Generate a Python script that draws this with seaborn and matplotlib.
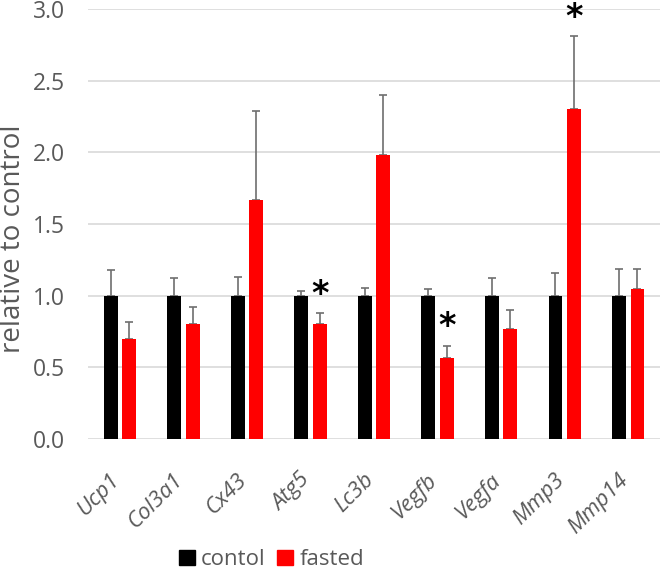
import matplotlib.pyplot as plt
import matplotlib.transforms as mtransforms
import seaborn as sns
import numpy as np
import pandas as pd

genes = ["Ucp1", "Col3a1", "Cx43", "Atg5", "Lc3b", "Vegfb", "Vegfa", "Mmp3", "Mmp14"]
control_mean = [1.0, 1.0, 1.0, 1.0, 1.0, 1.0, 1.0, 1.0, 1.0]
control_err = [0.18, 0.125, 0.13, 0.03, 0.055, 0.05, 0.125, 0.16, 0.19]
fasted_mean = [0.695, 0.80, 1.665, 0.80, 1.98, 0.567, 0.77, 2.30, 1.05]
fasted_err = [0.125, 0.12, 0.625, 0.077, 0.42, 0.083, 0.13, 0.51, 0.14]
signif = [False, False, False, True, False, True, False, True, False]
groups = ["contol", "fasted"]
colors = ["#000000", "#ff0000"]

df = pd.DataFrame({
    "gene": genes * 2,
    "value": control_mean + fasted_mean,
    "group": [groups[0]] * len(genes) + [groups[1]] * len(genes),
})

sns.set_style("white")
plt.rcParams["font.family"] = ["Open Sans", "DejaVu Sans"]
grey = "#595959"

fig = plt.figure(figsize=(6.62, 5.71), dpi=100)
ax = fig.add_axes([0.133, 0.231, 0.864, 0.753])

sns.barplot(data=df, x="gene", y="value", hue="group", palette=colors,
            order=genes, hue_order=groups, width=0.58, gap=0.25, saturation=1,
            linewidth=0, errorbar=None, legend=False, ax=ax)

# error bars (upper only): symmetric bar around midpoint so the lower cap hides behind the bar
n = len(genes)
bars = ax.patches
for k, (means, errs) in enumerate([(control_mean, control_err), (fasted_mean, fasted_err)]):
    xs = [bars[k * n + i].get_x() + bars[k * n + i].get_width() / 2 for i in range(n)]
    mid = np.array(means) + np.array(errs) / 2
    ax.errorbar(xs, mid, yerr=np.array(errs) / 2, fmt="none",
                ecolor="#6e6e6e", elinewidth=1.2, capsize=3, capthick=1.2, zorder=0.8)
    if k == 1:
        for i in range(n):
            if signif[i]:
                ax.text(xs[i], means[i] + errs[i] + 0.135, "*", ha="center", va="center",
                        fontsize=24, fontweight="bold", color="black", family="DejaVu Sans")

ax.set_ylim(0, 3.0)
ax.set_xlim(-0.5, n - 0.5)
ax.set_yticks(np.arange(0, 3.01, 0.5))
ax.set_yticklabels([f"{v:.1f}" for v in np.arange(0, 3.01, 0.5)])
ax.yaxis.grid(True, color="#d9d9d9", linewidth=1.2, zorder=0.5)
ax.set_axisbelow(True)
for s in ax.spines.values():
    s.set_visible(False)
ax.tick_params(axis="y", length=0, pad=16.5, labelsize=16.5, labelcolor=grey)
ax.tick_params(axis="x", length=0, pad=22, labelsize=16, labelcolor=grey)
shift = mtransforms.ScaledTranslation(-0.11, 0, fig.dpi_scale_trans)
for lab in ax.get_xticklabels():
    lab.set_rotation(45)
    lab.set_ha("right")
    lab.set_rotation_mode("anchor")
    lab.set_style("italic")
    lab.set_transform(lab.get_transform() + shift)
ax.set_xlabel("")
ax.set_ylabel("relative to control", fontsize=20, color=grey)
ax.yaxis.set_label_coords(-0.107, 0.467)

handles = [plt.Rectangle((0, 0), 1, 1, color=c) for c in colors]
fig.legend(handles, groups, loc="center", bbox_to_anchor=(0.41, 0.02), ncol=2,
           frameon=False, fontsize=16, handlelength=0.7, handleheight=0.7,
           handletextpad=0.3, columnspacing=0.5, labelcolor=grey)

fig.savefig("out.png", dpi=100)
